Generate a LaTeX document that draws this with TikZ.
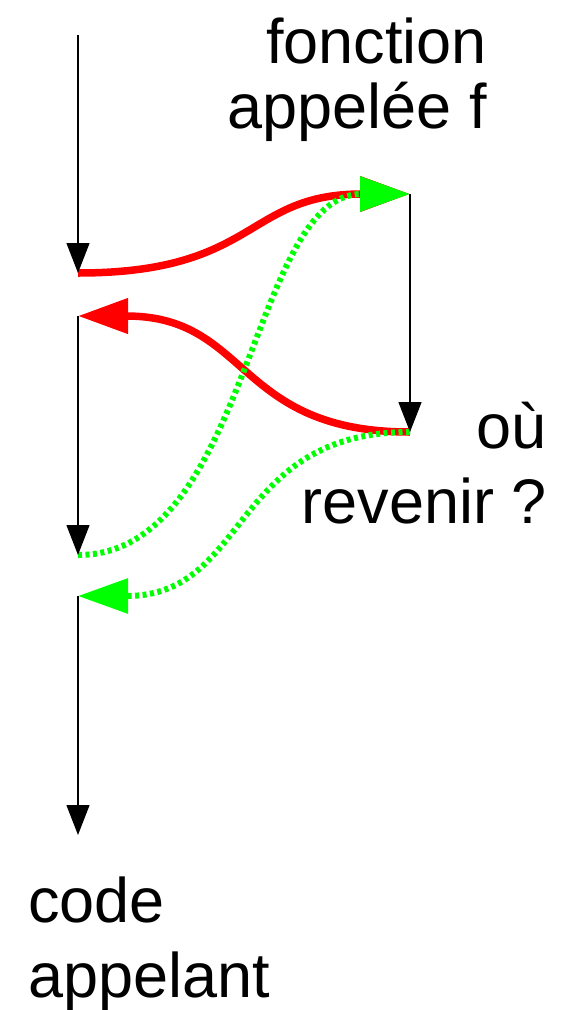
\documentclass[tikz,border=0pt]{standalone}
\usepackage{fontspec}
\setmainfont{Liberation Sans}
\usetikzlibrary{arrows.meta}
\tikzset{
  flot/.style={draw=black, line width=1.3pt, -{Triangle[length=30pt,width=23pt]}},
  appel/.style={draw=red, line width=7.5pt, -{Triangle[length=50pt,width=34pt]}},
  retour/.style={draw=green, line width=6pt, dash pattern=on 4pt off 3.5pt, -{Triangle[length=50pt,width=34pt]}},
  texte/.style={font=\fontsize{63}{75}\selectfont, inner sep=0pt}
}

\begin{document}
\begin{tikzpicture}[x=1pt, y=-1pt]
  \useasboundingbox (0,0) rectangle (562,1010);

  % Points du code appelant
  \coordinate (g0) at (78,35);
  \coordinate (g1) at (78,273);
  \coordinate (g2) at (78,316);
  \coordinate (g3) at (78,555);
  \coordinate (g4) at (78,596);
  \coordinate (g5) at (78,835);

  % Points de la fonction
  \coordinate (f0) at (410,194);
  \coordinate (f1) at (410,432);

  % Appel et retour
  \draw[appel] (g1) .. controls +(180,0) and +(-165,0) .. (f0);
  \draw[appel] (f1) .. controls +(-175,0) and +(172,0) .. (g2);

  % Adresses de retour
  \draw[retour] (g3) .. controls +(172,0) and +(-160,0) .. (f0);
  \draw[retour] (f1) .. controls +(-180,0) and +(172,0) .. (g4);

  % Fil d'execution
  \draw[flot] (g0) -- (g1);
  \draw[flot] (g2) -- (g3);
  \draw[flot] (g4) -- (g5);
  \draw[flot] (f0) -- (f1);

  % Textes
  \node[texte, anchor=base east, align=right] (fonc) at (487,128) {fonction\\[-10pt]appelée f};
  \node[texte, anchor=base east, align=right] (ou) at (547,523) {où\\revenir ?};
  \node[texte, anchor=base west, align=left] (code) at (28,997) {code\\appelant};
\end{tikzpicture}
\end{document}
